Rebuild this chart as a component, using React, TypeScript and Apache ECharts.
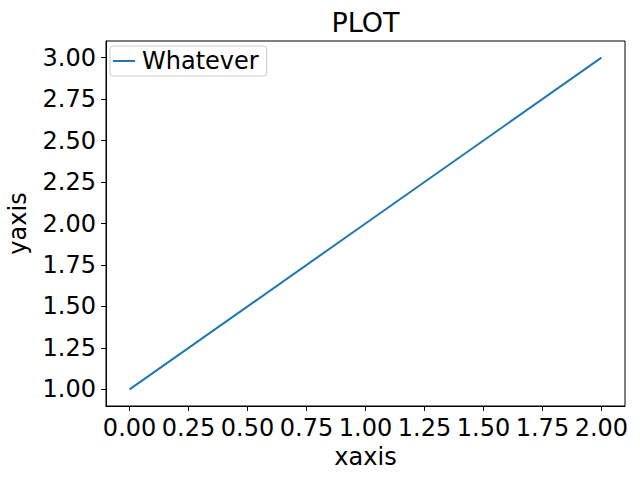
import React, { useEffect, useRef } from "react";
import * as echarts from "echarts";

const xValues = [0, 1, 2];
const yValues = [1, 2, 3];
const seriesName = "Whatever";
const xTicks = [0, 0.25, 0.5, 0.75, 1.0, 1.25, 1.5, 1.75, 2.0];
const yTicks = [1.0, 1.25, 1.5, 1.75, 2.0, 2.25, 2.5, 2.75, 3.0];
const titleText = "PLOT";
const xName = "xaxis";
const yName = "yaxis";

const FONT = "DejaVu Sans";

export default function App() {
  const ref = useRef<HTMLDivElement>(null);
  useEffect(() => {
    if (!ref.current) return;
    const chart = echarts.init(ref.current, null, { renderer: "svg" });
    const gridLeft = 106;
    const gridRight = 15;
    const gridTop = 41;
    const gridBottom = 74;
    const centerX = gridLeft + (640 - gridLeft - gridRight) / 2;
    chart.setOption({
      animation: false,
      backgroundColor: "#fff",
      textStyle: { fontFamily: FONT },
      grid: {
        left: gridLeft,
        right: gridRight,
        top: gridTop,
        bottom: gridBottom,
        containLabel: false,
        outerBoundsMode: "none",
        show: true,
        borderColor: "#000",
        borderWidth: 1,
        backgroundColor: "transparent",
      },
      graphic: [
        {
          type: "text",
          x: centerX,
          y: 22,
          style: {
            text: titleText,
            fontFamily: FONT,
            fontSize: 27,
            fill: "#000",
            textAlign: "center",
            textVerticalAlign: "middle",
          },
        },
      ],
      legend: {
        left: 110,
        top: 46,
        icon: "rect",
        itemWidth: 22,
        itemHeight: 2,
        padding: [3, 8, 3, 3],
        backgroundColor: "rgba(255,255,255,0.8)",
        borderColor: "#cccccc",
        borderWidth: 1,
        borderRadius: 3,
        textStyle: { fontFamily: FONT, fontSize: 24, color: "#000", padding: [0, 0, 0, 2] },
        data: [{ name: seriesName, itemStyle: { color: "#1f77b4" } }],
      },
      xAxis: {
        type: "value",
        min: -0.1,
        max: 2.1,
        name: xName,
        nameLocation: "middle",
        nameGap: 30,
        nameTextStyle: { fontFamily: FONT, fontSize: 24, color: "#000" },
        axisLine: { show: true, onZero: false, lineStyle: { color: "#000", width: 1 } },
        axisTick: { show: true, length: 5, lineStyle: { color: "#000" }, customValues: xTicks },
        axisLabel: {
          color: "#000",
          fontFamily: FONT,
          fontSize: 24,
          margin: 10,
          customValues: xTicks,
          formatter: (v: number) => v.toFixed(2),
        },
        splitLine: { show: false },
      },
      yAxis: {
        type: "value",
        min: 0.9,
        max: 3.1,
        name: yName,
        nameLocation: "middle",
        nameGap: 76,
        nameTextStyle: { fontFamily: FONT, fontSize: 24, color: "#000" },
        axisLine: { show: true, onZero: false, lineStyle: { color: "#000", width: 1 } },
        axisTick: { show: true, length: 5, lineStyle: { color: "#000" }, customValues: yTicks },
        axisLabel: {
          color: "#000",
          fontFamily: FONT,
          fontSize: 24,
          margin: 10,
          customValues: yTicks,
          formatter: (v: number) => v.toFixed(2),
        },
        splitLine: { show: false },
      },
      series: [
        {
          name: seriesName,
          type: "line",
          data: xValues.map((x, i) => [x, yValues[i]]),
          showSymbol: false,
          symbol: "none",
          lineStyle: { color: "#1f77b4", width: 2 },
          itemStyle: { color: "#1f77b4" },
        },
      ],
    });
    return () => chart.dispose();
  }, []);
  return <div ref={ref} style={{ width: 640, height: 480, position: "absolute", left: 0, top: 0 }} />;
}
